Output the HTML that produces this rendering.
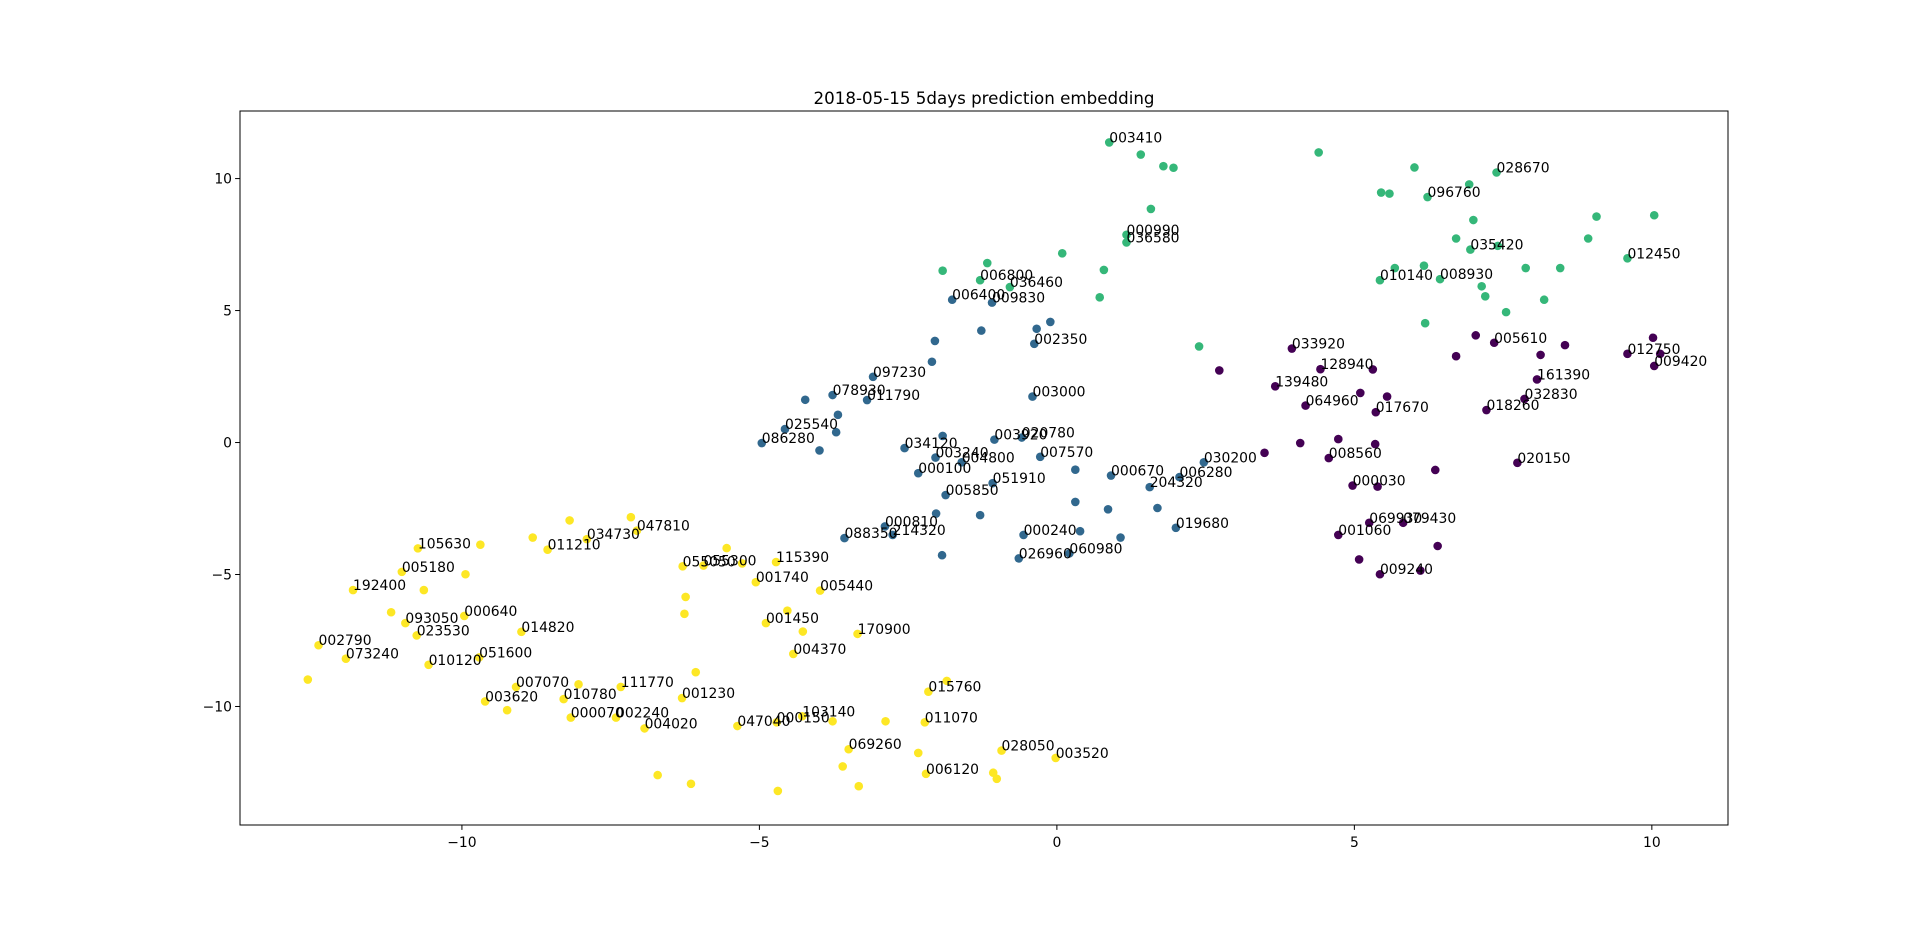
<!DOCTYPE html>
<html><head><meta charset="utf-8"><style>
html,body{margin:0;padding:0;background:#fff;}
svg text{font-family:"DejaVu Sans","Liberation Sans",sans-serif;}
</style></head><body>
<svg id="chart" width="1920" height="927" xmlns="http://www.w3.org/2000/svg">
<rect width="1920" height="927" fill="#fff"/>
<text x="984" y="104" font-size="16.7" text-anchor="middle">2018-05-15 5days prediction embedding</text>
<g id="pts"></g>
<g id="lbls"></g>
<rect x="240" y="111" width="1488" height="714" fill="none" stroke="#000" stroke-width="1"/>
<g id="xt"></g>
<g id="yt"></g>
</svg>
<script>
const names = ["002790","073240","","192400","105630","","005180","","","","093050","023530","000640","014820","051600","010120","011210","","","034730","047810","","055050","055300","","","115390","001740","005440","","","","001450","","170900","004370",
"","001230","007070","003620","","010780","","111770","000070","002240","004020","","","047040","000150","103140","","069260","","","","015760","","","011070","","006120","","","028050","003520",
"086280","025540","","","","034120","","003240","004800","000100","005850","","","000810","214320","088350","","078930","","011790","097230","","","","006400","009830","","","002350","003000","003920","020780","007570","","000670","006280","030200","051910","204320","","","","019680","","","000240","026960","060980",
"003410","","","","","","","","000990","036580","","","","","006800","036460","","","010140","","008930","","","","096760","","","","035420","","","","","028670","","","","","","012450","",
"033920","","128940","","139480","","","064960","017670","","","","008560","","000030","","","069930","079430","001060","","","009240","","005610","","","","","161390","032830","018260","020150","012750","","","009420"];
const xs = [-12.41,-11.95,-12.59,-11.83,-10.74,-9.69,-11.01,-9.94,-10.64,-11.19,-10.95,-10.76,-9.96,-9.0,-9.71,-10.56,-8.56,-8.81,-8.19,-7.90,-7.06,-7.16,-6.29,-5.94,-5.29,-5.55,-4.72,-5.06,-3.98,-6.24,-6.26,-4.53,-4.89,-4.27,-3.35,-4.43,
-6.07,-6.30,-9.09,-9.61,-9.24,-8.29,-8.04,-7.33,-8.17,-7.41,-6.93,-6.71,-6.15,-5.37,-4.71,-4.28,-3.77,-3.50,-3.60,-4.69,-3.33,-2.16,-1.85,-2.88,-2.22,-2.33,-2.20,-1.07,-1.01,-0.93,-0.02,
-4.96,-4.57,-3.68,-3.71,-3.99,-2.56,-1.92,-2.04,-1.60,-2.33,-1.87,-2.03,-1.29,-2.89,-2.76,-3.57,-1.93,-3.77,-4.23,-3.19,-3.09,-2.10,-2.05,-1.27,-1.76,-1.09,-0.34,-0.11,-0.38,-0.41,-1.05,-0.59,-0.28,0.31,0.91,2.06,2.47,-1.08,1.56,0.31,0.86,1.69,2.00,1.07,0.39,-0.56,-0.64,0.21,
0.88,1.41,1.79,1.96,4.40,5.45,5.59,1.58,1.17,1.17,0.09,0.79,-1.17,-1.92,-1.29,-0.79,0.72,2.39,5.43,5.68,6.44,6.17,6.19,6.01,6.23,6.71,7.0,6.93,6.95,7.41,7.14,7.20,7.55,7.39,7.88,8.19,8.46,8.93,9.07,9.59,10.04,
3.95,2.73,4.43,5.31,3.67,5.10,5.55,4.18,5.36,3.49,4.09,4.73,4.57,5.35,4.97,5.39,6.36,5.25,5.82,4.73,6.40,5.08,5.43,6.11,7.35,7.04,6.71,8.13,8.54,8.07,7.86,7.22,7.74,9.59,10.02,10.14,10.04];
const ys = [-7.68,-8.19,-8.98,-5.59,-4.01,-3.87,-4.90,-4.99,-5.59,-6.43,-6.84,-7.31,-6.57,-7.17,-8.14,-8.42,-4.06,-3.60,-2.95,-3.66,-3.34,-2.83,-4.69,-4.66,-4.58,-4.00,-4.53,-5.29,-5.61,-5.85,-6.49,-6.37,-6.84,-7.16,-7.25,-8.01,
-8.70,-9.68,-9.26,-9.81,-10.14,-9.72,-9.16,-9.26,-10.42,-10.42,-10.83,-12.6,-12.93,-10.74,-10.6,-10.37,-10.56,-11.62,-12.27,-13.2,-13.02,-9.44,-9.03,-10.56,-10.60,-11.76,-12.55,-12.51,-12.74,-11.67,-11.95,
-0.02,0.51,1.05,0.39,-0.30,-0.21,0.25,-0.57,-0.75,-1.16,-1.99,-2.69,-2.75,-3.18,-3.50,-3.62,-4.27,1.80,1.62,1.61,2.49,3.06,3.85,4.24,5.41,5.30,4.31,4.57,3.74,1.74,0.11,0.19,-0.54,-1.03,-1.25,-1.31,-0.75,-1.54,-1.69,-2.25,-2.53,-2.48,-3.23,-3.60,-3.36,-3.50,-4.39,-4.20,
11.37,10.91,10.47,10.41,10.99,9.47,9.43,8.85,7.87,7.58,7.17,6.54,6.80,6.51,6.15,5.89,5.50,3.64,6.15,6.61,6.19,6.70,4.52,10.42,9.30,7.73,8.43,9.78,7.31,7.45,5.92,5.54,4.94,10.23,6.61,5.41,6.61,7.73,8.56,6.98,8.61,
3.56,2.73,2.78,2.77,2.13,1.88,1.74,1.40,1.15,-0.39,-0.02,0.13,-0.59,-0.06,-1.63,-1.67,-1.04,-3.04,-3.04,-3.50,-3.92,-4.43,-4.99,-4.85,3.78,4.06,3.27,3.32,3.69,2.39,1.65,1.23,-0.77,3.36,3.97,3.36,2.90];
const clusterSizes = [67,48,41,37];
const clusterColorIndex = [3,1,2,0];
const xTicks = [-10,-5,0,5,10];
const yTicks = [-10,-5,0,5,10];
const palette = ["#440154","#31688e","#35b779","#fde725"];
const L=240,R=1728,T=111,B=825, XMIN=-13.73,XMAX=11.28,YMIN=-14.49,YMAX=12.56;
const sx=v=>L+(v-XMIN)/(XMAX-XMIN)*(R-L);
const sy=v=>B-(v-YMIN)/(YMAX-YMIN)*(B-T);
const NS="http://www.w3.org/2000/svg";
const pts=document.getElementById('pts'), lbls=document.getElementById('lbls');
let cl=[];clusterSizes.forEach((n,i)=>{for(let k=0;k<n;k++)cl.push(clusterColorIndex[i]);});
for(let i=0;i<xs.length;i++){
 const c=document.createElementNS(NS,'circle');
 c.setAttribute('cx',sx(xs[i]));c.setAttribute('cy',sy(ys[i]));c.setAttribute('r',4.3);
 c.setAttribute('fill',palette[cl[i]!==undefined?cl[i]:0]);
 
 
 pts.appendChild(c);
 if(names[i]){
  const t=document.createElementNS(NS,'text');
  t.setAttribute('x',sx(xs[i]));t.setAttribute('y',sy(ys[i]));t.setAttribute('font-size','13.9');
  t.textContent=names[i];
  
  
  lbls.appendChild(t);
 }
}
const xt=document.getElementById('xt'), yt=document.getElementById('yt');
xTicks.forEach(v=>{
 const l=document.createElementNS(NS,'line');
 l.setAttribute('x1',sx(v));l.setAttribute('x2',sx(v));l.setAttribute('y1',B);l.setAttribute('y2',B+4.9);l.setAttribute('stroke','#000');
 
 
 xt.appendChild(l);
 const t=document.createElementNS(NS,'text');
 t.setAttribute('x',sx(v));t.setAttribute('y',B+22);t.setAttribute('font-size','13.9');t.setAttribute('text-anchor','middle');
 t.textContent=v<0?'\u2212'+Math.abs(v):String(v);
 
 
 xt.appendChild(t);
});
yTicks.forEach(v=>{
 const l=document.createElementNS(NS,'line');
 l.setAttribute('x1',L-4.9);l.setAttribute('x2',L);l.setAttribute('y1',sy(v));l.setAttribute('y2',sy(v));l.setAttribute('stroke','#000');
 
 
 yt.appendChild(l);
 const t=document.createElementNS(NS,'text');
 t.setAttribute('x',L-8);t.setAttribute('y',sy(v)+5);t.setAttribute('font-size','13.9');t.setAttribute('text-anchor','end');
 t.textContent=v<0?'\u2212'+Math.abs(v):String(v);
 
 
 yt.appendChild(t);
});
</script>
</body></html>
